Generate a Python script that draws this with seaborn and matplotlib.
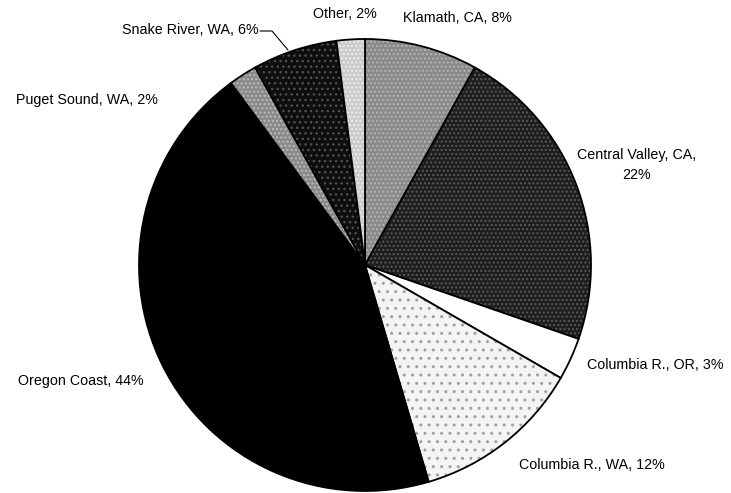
import matplotlib
matplotlib.use("Agg")
import matplotlib.pyplot as plt
import seaborn as sns

categories = ["Klamath, CA", "Central Valley, CA", "Columbia R., OR", "Columbia R., WA",
              "Oregon Coast", "Puget Sound, WA", "Snake River, WA", "Other"]
values = [8, 22, 3, 12, 44, 2, 6, 2]
labels = ["Klamath, CA, 8%", "Central Valley, CA,\n22%", "Columbia R., OR, 3%",
          "Columbia R., WA, 12%", "Oregon Coast, 44%", "Puget Sound, WA, 2%",
          "Snake River, WA, 6%", "Other, 2%"]

sns.set_style("white")
plt.rcParams['font.family'] = ['Liberation Sans', 'DejaVu Sans']

W, H = 731, 493
fig = plt.figure(figsize=(W / 100, H / 100), dpi=100)
cx, cy, r = 365, 265, 226
ax = fig.add_axes([(cx - r) / W, (H - cy - r) / H, 2 * r / W, 2 * r / H])

face = ["#8a8a8a", "#1e1e1e", "#ffffff", "#f4f4f4", "#000000", "#8a8a8a", "#0e0e0e", "#cccccc"]
hatch = ["....", "....", None, "..", None, "....", "...", "...."]
hcol = ["#b4b4b4", "#5a5a5a", "#ffffff", "#a0a0a0", "#000000", "#bcbcbc", "#505050", "#eeeeee"]

wedges, _ = ax.pie(values, colors=face, startangle=90, counterclock=False,
                   wedgeprops=dict(edgecolor="black", linewidth=1.3))
for w, h, hc in zip(wedges, hatch, hcol):
    if h:
        w.set_hatch(h)
        w._hatch_color = matplotlib.colors.to_rgba(hc)
ax.set_xlim(-1.0, 1.0)
ax.set_ylim(-1.0, 1.0)
ax.set_aspect("equal")
ax.axis("off")

# label positions in pixel coordinates (x, y from top) and alignment
pos = [(457, 18, "center"), (637, 165, "center"), (655, 365, "center"),
       (592, 465, "center"), (81, 381, "center"), (87, 100, "center"),
       (259, 30, "right"), (345, 14, "center")]
for lab, (px, py, ha) in zip(labels, pos):
    fig.text(px / W, 1 - py / H, lab, ha=ha, va="center", fontsize=10.3,
             color="black", linespacing=1.6)

# leader line for Snake River
fig.add_artist(plt.Line2D([260 / W, 272 / W, 288 / W],
                          [1 - 31 / H, 1 - 31 / H, 1 - 50 / H],
                          color="black", linewidth=0.8))

fig.savefig("out.png", dpi=100, facecolor="white")
